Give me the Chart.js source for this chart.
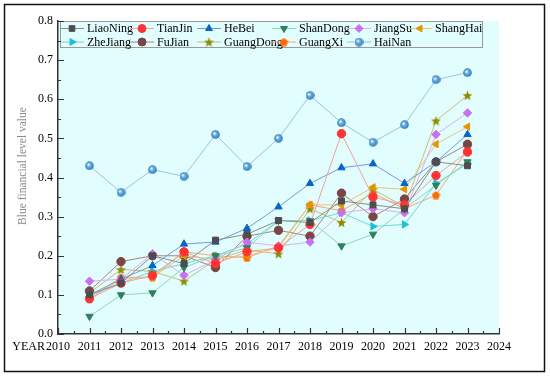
<!DOCTYPE html>
<html>
<head>
<meta charset="utf-8">
<script src="https://cdn.jsdelivr.net/npm/chart.js@4.4.1/dist/chart.umd.min.js"></script>
<style>
html, body { margin: 0; padding: 0; background: #fff; }
</style>
</head>
<body>
<canvas id="myChart" width="550" height="377"></canvas>
<script>
const years = [2011, 2012, 2013, 2014, 2015, 2016, 2017, 2018, 2019, 2020, 2021, 2022, 2023];
const regionNames = ["LiaoNing", "TianJin", "HeBei", "ShanDong", "JiangSu", "ShangHai",
                     "ZheJiang", "FuJian", "GuangDong", "GuangXi", "HaiNan"];

const LiaoNing  = [0.100, 0.130, 0.200, 0.180, 0.240, 0.255, 0.290, 0.285, 0.340, 0.330, 0.320, 0.440, 0.430];
const TianJin   = [0.090, 0.130, 0.150, 0.210, 0.180, 0.210, 0.220, 0.280, 0.512, 0.350, 0.330, 0.405, 0.465];
const HeBei     = [0.100, 0.140, 0.175, 0.230, 0.235, 0.270, 0.325, 0.385, 0.425, 0.435, 0.385, 0.440, 0.510];
const ShanDong  = [0.045, 0.100, 0.105, 0.170, 0.200, 0.220, 0.290, 0.290, 0.225, 0.255, 0.320, 0.380, 0.440];
const JiangSu   = [0.135, 0.140, 0.205, 0.150, 0.190, 0.235, 0.225, 0.235, 0.310, 0.320, 0.310, 0.510, 0.565];
const ShangHai  = [0.090, 0.140, 0.145, 0.200, 0.190, 0.200, 0.220, 0.330, 0.330, 0.375, 0.370, 0.485, 0.530];
const ZheJiang  = [0.100, 0.130, 0.160, 0.180, 0.200, 0.230, 0.290, 0.290, 0.310, 0.275, 0.280, 0.385, 0.435];
const FuJian    = [0.110, 0.185, 0.200, 0.200, 0.170, 0.250, 0.265, 0.250, 0.360, 0.300, 0.345, 0.440, 0.485];
const GuangDong = [0.105, 0.165, 0.160, 0.135, 0.190, 0.215, 0.205, 0.320, 0.285, 0.370, 0.325, 0.545, 0.610];
const GuangXi   = [0.090, 0.145, 0.145, 0.210, 0.200, 0.195, 0.225, 0.330, 0.315, 0.360, 0.320, 0.355, 0.470];
const HaiNan    = [0.430, 0.362, 0.420, 0.403, 0.510, 0.428, 0.500, 0.610, 0.540, 0.490, 0.535, 0.650, 0.668];

const seriesValues = [LiaoNing, TianJin, HeBei, ShanDong, JiangSu, ShangHai,
                      ZheJiang, FuJian, GuangDong, GuangXi, HaiNan];

const xTickLabels = [2010, 2011, 2012, 2013, 2014, 2015, 2016, 2017, 2018, 2019, 2020, 2021, 2022, 2023, 2024];
const yTickLabels = [0.0, 0.1, 0.2, 0.3, 0.4, 0.5, 0.6, 0.7, 0.8];

const FONT = "'Liberation Serif', 'DejaVu Serif', serif";

// little canvases for the markers chart.js has no shape for
function makeMarker(size, drawFn) {
    const c = document.createElement('canvas');
    c.width = size; c.height = size;
    drawFn(c.getContext('2d'), size / 2);
    return c;
}
const starMarker = makeMarker(11, (g, r) => {
    g.beginPath();
    for (let i = 0; i < 10; i++) {
        const rad = i % 2 === 0 ? 5.2 : 2.2;
        const a = -Math.PI / 2 + i * Math.PI / 5;
        g.lineTo(r + rad * Math.cos(a), r + 0.5 + rad * Math.sin(a));
    }
    g.closePath();
    g.fillStyle = '#8f8a00';
    g.fill();
});
const pentaMarker = makeMarker(9, (g, r) => {
    g.beginPath();
    for (let i = 0; i < 5; i++) {
        const a = -Math.PI / 2 + i * 2 * Math.PI / 5;
        g.lineTo(r + 4.3 * Math.cos(a), r + 0.4 + 4.3 * Math.sin(a));
    }
    g.closePath();
    g.fillStyle = '#ff6a00';
    g.fill();
});
const ballMarker = makeMarker(9, (g, r) => {
    const grad = g.createRadialGradient(r - 1.2, r - 1.2, 0.4, r, r, 4.3);
    grad.addColorStop(0, '#ffffff');
    grad.addColorStop(0.35, '#6fb2e0');
    grad.addColorStop(1, '#2a7bb8');
    g.beginPath();
    g.arc(r, r, 4.3, 0, Math.PI * 2);
    g.fillStyle = grad;
    g.fill();
});

const styles = [
    { line: '#8c8c8c', mark: '#4d4d4d', shape: 'rect', rot: 0 },
    { line: '#f4a0a0', mark: '#ff3333', shape: 'circle', rot: 0 },
    { line: '#6f9fd8', mark: '#0a64c8', shape: 'triangle', rot: 0 },
    { line: '#90d8b4', mark: '#2e8060', shape: 'triangle', rot: 180 },
    { line: '#ddb0f0', mark: '#c870ee', shape: 'rectRot', rot: 0 },
    { line: '#efc27a', mark: '#e69500', shape: 'triangle', rot: -90 },
    { line: '#6fd8dc', mark: '#20c0d0', shape: 'triangle', rot: 90 },
    { line: '#b08080', mark: '#7b4545', shape: 'circle', rot: 0 },
    { line: '#c8c070', mark: '#8f8a00', shape: starMarker, rot: 0 },
    { line: '#f8a878', mark: '#ff6a00', shape: pentaMarker, rot: 0 },
    { line: '#9cc4e0', mark: '#3c8ec8', shape: ballMarker, rot: 0 }
];

const datasets = regionNames.map((name, i) => ({
    label: name,
    data: years.map((y, j) => ({ x: y, y: seriesValues[i][j] })),
    borderColor: styles[i].line,
    borderWidth: 1,
    backgroundColor: styles[i].mark,
    pointBackgroundColor: styles[i].mark,
    pointBorderColor: styles[i].mark,
    pointBorderWidth: 1,
    pointStyle: styles[i].shape,
    rotation: styles[i].rot,
    pointRadius: 4.2,
    tension: 0,
    fill: false
}));

// white page, frame and cyan plot area
const backdrop = {
    id: 'backdrop',
    beforeDraw(chart) {
        const ctx = chart.ctx, a = chart.chartArea;
        ctx.save();
        ctx.fillStyle = '#fff';
        ctx.fillRect(0, 0, chart.width, chart.height);
        ctx.strokeStyle = '#111';
        ctx.lineWidth = 1.5;
        ctx.strokeRect(4.5, 4.5, 540, 367);
        ctx.fillStyle = '#e1fdfd';
        ctx.fillRect(a.left, a.top, a.right - a.left, a.bottom - a.top);
        ctx.restore();
    }
};

// inward ticks (major + minor), axis texts
const axisDeco = {
    id: 'axisDeco',
    afterDraw(chart) {
        const ctx = chart.ctx, a = chart.chartArea;
        const xs = chart.scales.x, ys = chart.scales.y;
        ctx.save();
        ctx.strokeStyle = '#333';
        ctx.lineWidth = 1.2;
        ctx.beginPath();
        for (let i = 0; i <= 28; i++) {
            const v = xTickLabels[0] + i / 2;
            const px = Math.round(xs.getPixelForValue(v)) + 0.5;
            const len = i % 2 === 0 ? 6 : 3;
            ctx.moveTo(px, a.bottom);
            ctx.lineTo(px, a.bottom - len);
        }
        for (let i = 0; i <= 16; i++) {
            const py = Math.round(ys.getPixelForValue(i * 0.05)) + 0.5;
            const len = i % 2 === 0 ? 6 : 3;
            ctx.moveTo(a.left, py);
            ctx.lineTo(a.left + len, py);
        }
        ctx.stroke();

        ctx.fillStyle = '#000';
        ctx.font = '12px ' + FONT;
        ctx.textAlign = 'right';
        ctx.textBaseline = 'middle';
        ctx.fillText('YEAR', 45, 347);

        ctx.translate(23, 166);
        ctx.rotate(-Math.PI / 2);
        ctx.fillStyle = '#8a8a8a';
        ctx.font = '11.5px ' + FONT;
        ctx.textAlign = 'center';
        ctx.fillText('Blue financial level value', 0, 0);
        ctx.restore();
    }
};

// legend inside the plot, two rows on fixed columns
const boxLegend = {
    id: 'boxLegend',
    afterDatasetsDraw(chart) {
        const ctx = chart.ctx;
        const cols = [60, 130, 197, 272, 347, 408];
        const rows = [28.5, 42];
        ctx.save();
        ctx.strokeStyle = '#9a9a9a';
        ctx.lineWidth = 1;
        ctx.strokeRect(60.5, 21.5, 422, 26);
        ctx.font = '12px ' + FONT;
        ctx.textBaseline = 'middle';
        ctx.textAlign = 'left';
        chart.data.datasets.forEach((ds, i) => {
            const cx = cols[i % 6], cy = rows[Math.floor(i / 6)];
            ctx.strokeStyle = ds.borderColor;
            ctx.lineWidth = 1;
            ctx.beginPath();
            ctx.moveTo(cx, cy);
            ctx.lineTo(cx + 24, cy);
            ctx.stroke();
            ctx.fillStyle = ds.pointBackgroundColor;
            ctx.strokeStyle = ds.pointBorderColor;
            Chart.helpers.drawPoint(ctx, {
                pointStyle: ds.pointStyle,
                rotation: ds.rotation,
                radius: 4,
                borderWidth: 1
            }, cx + 12, cy);
            ctx.fillStyle = '#000';
            ctx.fillText(ds.label, cx + 27, cy + 0.5);
        });
        ctx.restore();
    }
};

const ctx = document.getElementById('myChart').getContext('2d');

window.myChart = new Chart(ctx, {
    type: 'line',
    data: { datasets: datasets },
    options: {
        responsive: false,
        animation: false,
        devicePixelRatio: 1,
        layout: { padding: { left: 0, top: 21, right: 51, bottom: 0 } },
        plugins: {
            legend: { display: false },
            tooltip: { enabled: false }
        },
        scales: {
            x: {
                type: 'linear',
                min: 2010,
                max: 2024,
                afterFit: s => { s.height = 43; },
                afterBuildTicks: s => { s.ticks = xTickLabels.map(v => ({ value: v })); },
                ticks: {
                    autoSkip: false,
                    maxRotation: 0,
                    padding: 6,
                    color: '#000',
                    font: { family: FONT, size: 12 },
                    callback: v => String(v)
                },
                grid: { display: false, drawTicks: false },
                border: { display: true, color: '#333', width: 1.5 }
            },
            y: {
                min: 0,
                max: 0.8,
                afterFit: s => { s.width = 58; },
                afterBuildTicks: s => { s.ticks = yTickLabels.map(v => ({ value: v })); },
                ticks: {
                    padding: 5,
                    color: '#000',
                    font: { family: FONT, size: 12 },
                    callback: v => v.toFixed(1)
                },
                grid: { display: false, drawTicks: false },
                border: { display: true, color: '#333', width: 1.5 }
            }
        }
    },
    plugins: [backdrop, axisDeco, boxLegend]
});
</script>
</body>
</html>
